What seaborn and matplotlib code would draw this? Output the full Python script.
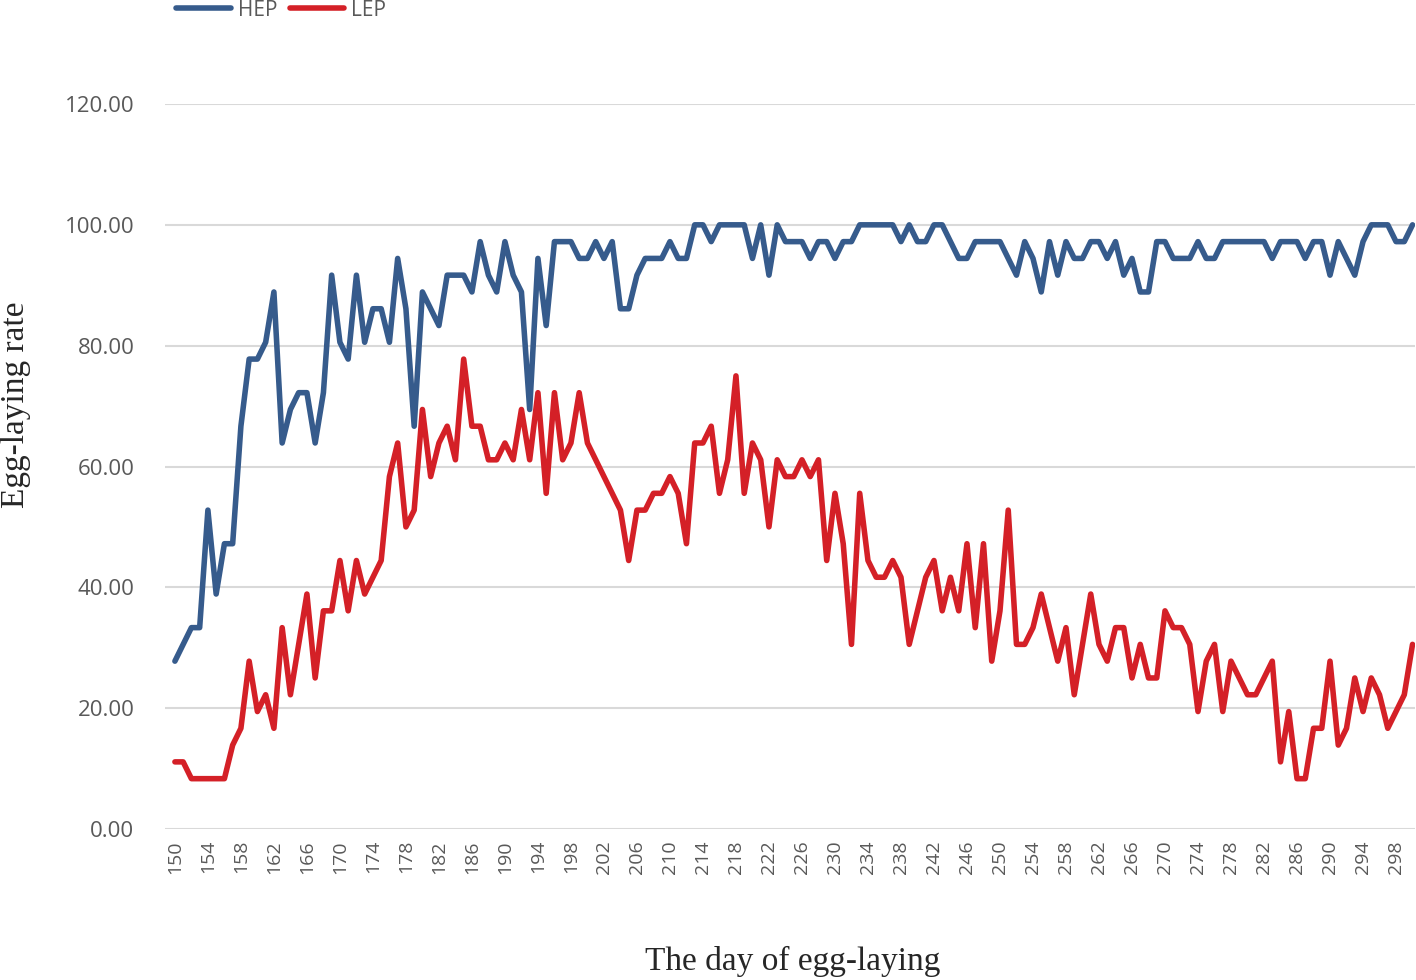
import numpy as np
import pandas as pd
import seaborn as sns
import matplotlib.pyplot as plt

# day of egg-laying (categories)
days = list(range(150, 301))

# HEP egg-laying rate, day 150..300
hep = [
    27.78, 30.56, 33.33, 33.33, 52.78, 38.89, 47.22, 47.22, 66.67, 77.78,  # 150-159
    77.78, 80.56, 88.89, 63.89, 69.44, 72.22, 72.22, 63.89, 72.22, 91.67,  # 160-169
    80.56, 77.78, 91.67, 80.56, 86.11, 86.11, 80.56, 94.44, 86.11, 66.67,  # 170-179
    88.89, 86.11, 83.33, 91.67, 91.67, 91.67, 88.89, 97.22, 91.67, 88.89,  # 180-189
    97.22, 91.67, 88.89, 69.44, 94.44, 83.33, 97.22, 97.22, 97.22, 94.44,  # 190-199
    94.44, 97.22, 94.44, 97.22, 86.11, 86.11, 91.67, 94.44, 94.44, 94.44,  # 200-209
    97.22, 94.44, 94.44, 100.0, 100.0, 97.22, 100.0, 100.0, 100.0, 100.0,  # 210-219
    94.44, 100.0, 91.67, 100.0, 97.22, 97.22, 97.22, 94.44, 97.22, 97.22,  # 220-229
    94.44, 97.22, 97.22, 100.0, 100.0, 100.0, 100.0, 100.0, 97.22, 100.0,  # 230-239
    97.22, 97.22, 100.0, 100.0, 97.22, 94.44, 94.44, 97.22, 97.22, 97.22,  # 240-249
    97.22, 94.44, 91.67, 97.22, 94.44, 88.89, 97.22, 91.67, 97.22, 94.44,  # 250-259
    94.44, 97.22, 97.22, 94.44, 97.22, 91.67, 94.44, 88.89, 88.89, 97.22,  # 260-269
    97.22, 94.44, 94.44, 94.44, 97.22, 94.44, 94.44, 97.22, 97.22, 97.22,  # 270-279
    97.22, 97.22, 97.22, 94.44, 97.22, 97.22, 97.22, 94.44, 97.22, 97.22,  # 280-289
    91.67, 97.22, 94.44, 91.67, 97.22, 100.0, 100.0, 100.0, 97.22, 97.22,  # 290-299
    100.0,                                                                 # 300
]

# LEP egg-laying rate, day 150..300
lep = [
    11.11, 11.11, 8.33, 8.33, 8.33, 8.33, 8.33, 13.89, 16.67, 27.78,       # 150-159
    19.44, 22.22, 16.67, 33.33, 22.22, 30.56, 38.89, 25.00, 36.11, 36.11,  # 160-169
    44.44, 36.11, 44.44, 38.89, 41.67, 44.44, 58.33, 63.89, 50.00, 52.78,  # 170-179
    69.44, 58.33, 63.89, 66.67, 61.11, 77.78, 66.67, 66.67, 61.11, 61.11,  # 180-189
    63.89, 61.11, 69.44, 61.11, 72.22, 55.56, 72.22, 61.11, 63.89, 72.22,  # 190-199
    63.89, 61.11, 58.33, 55.56, 52.78, 44.44, 52.78, 52.78, 55.56, 55.56,  # 200-209
    58.33, 55.56, 47.22, 63.89, 63.89, 66.67, 55.56, 61.11, 75.00, 55.56,  # 210-219
    63.89, 61.11, 50.00, 61.11, 58.33, 58.33, 61.11, 58.33, 61.11, 44.44,  # 220-229
    55.56, 47.22, 30.56, 55.56, 44.44, 41.67, 41.67, 44.44, 41.67, 30.56,  # 230-239
    36.11, 41.67, 44.44, 36.11, 41.67, 36.11, 47.22, 33.33, 47.22, 27.78,  # 240-249
    36.11, 52.78, 30.56, 30.56, 33.33, 38.89, 33.33, 27.78, 33.33, 22.22,  # 250-259
    30.56, 38.89, 30.56, 27.78, 33.33, 33.33, 25.00, 30.56, 25.00, 25.00,  # 260-269
    36.11, 33.33, 33.33, 30.56, 19.44, 27.78, 30.56, 19.44, 27.78, 25.00,  # 270-279
    22.22, 22.22, 25.00, 27.78, 11.11, 19.44, 8.33, 8.33, 16.67, 16.67,    # 280-289
    27.78, 13.89, 16.67, 25.00, 19.44, 25.00, 22.22, 16.67, 19.44, 22.22,  # 290-299
    30.56,                                                                 # 300
]

groups = ["HEP", "LEP"]
colors = ["#365B8C", "#D42027"]

data = pd.DataFrame({
    "day": days * 2,
    "rate": hep + lep,
    "group": ["HEP"] * len(days) + ["LEP"] * len(days),
})

sns.set_style("white")
plt.rcParams["font.family"] = ["Open Sans", "DejaVu Sans"]

fig = plt.figure(figsize=(14.16, 9.8), dpi=100)
ax = fig.add_axes([165 / 1416, 1 - 829 / 980, 1250 / 1416, 725 / 980])

sns.lineplot(data=data, x="day", y="rate", hue="group", hue_order=groups,
             palette=colors, linewidth=4.0, ax=ax, legend=True)

ax.set_xlim(148.8, 300.3)
ax.set_ylim(0, 120)
ax.set_yticks(np.arange(0, 121, 20))
ax.set_yticklabels([f"{v:.2f}" for v in np.arange(0, 121, 20)],
                   fontsize=16, color="#595959")
ax.set_xticks(days[::4])
ax.set_xticklabels([str(d) for d in days[::4]], rotation=90,
                   fontsize=14, color="#595959")
ax.tick_params(axis="x", length=0, pad=8)
ax.tick_params(axis="y", length=0, pad=22)
ax.grid(axis="y", color="#D9D9D9", linewidth=1.5)
ax.set_axisbelow(True)
for s in ax.spines.values():
    s.set_visible(False)

ax.set_xlabel("")
ax.set_ylabel("")
fig.text(793 / 1416, 1 - 961 / 980, "The day of egg-laying",
         family="Liberation Serif", fontsize=24, ha="center", va="center")
fig.text(16 / 1416, 1 - 405 / 980, "Egg-laying rate",
         family="Liberation Serif", fontsize=24, ha="center", va="center",
         rotation=90)

sns.move_legend(ax, "center left", bbox_to_anchor=(166 / 1416, 1 - 10 / 980),
                bbox_transform=fig.transFigure, ncol=2, frameon=False,
                title=None, fontsize=15, handlelength=2.6,
                handletextpad=0.35, columnspacing=0.6, borderpad=0,
                labelcolor="#595959")

fig.savefig("out.png", dpi=100)
